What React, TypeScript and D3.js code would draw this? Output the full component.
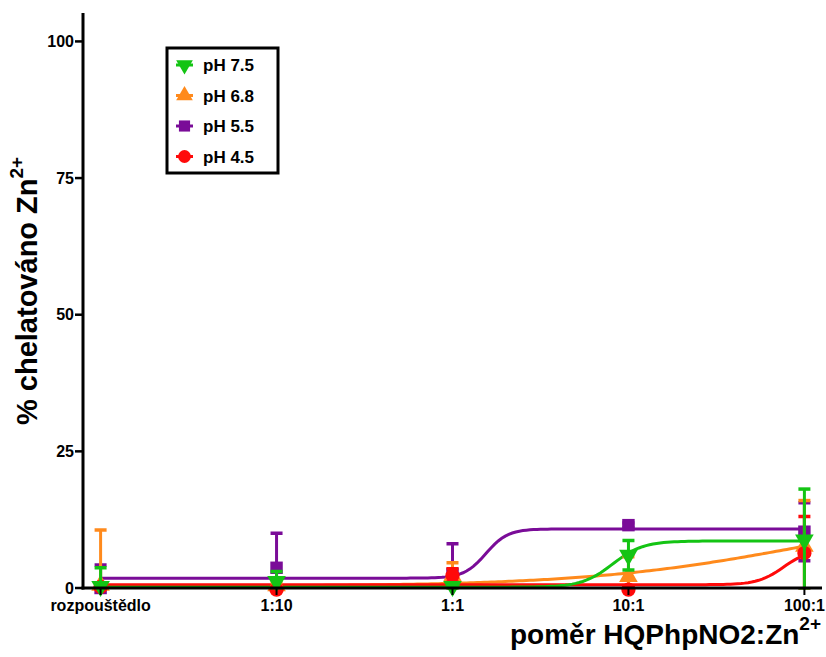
import * as d3 from "d3";

// ---- data ----
const categories = ["rozpouštědlo", "1:10", "1:1", "10:1", "100:1"];
const yTicks = [0, 25, 50, 75, 100];

const seriesNames = ["pH 7.5", "pH 6.8", "pH 5.5", "pH 4.5"];
const seriesColors = ["#14c414", "#ff8a1c", "#7a0c98", "#ff0a0a"];
const seriesShapes = ["triangleDown", "triangleUp", "square", "circle"];

// mean and SD per category (rozpouštědlo, 1:10, 1:1, 10:1, 100:1)
const ph75Mean = [0.3, 1.2, 0.3, 6.0, 8.8];
const ph75Sd = [3.4, 1.8, 0.5, 2.7, 9.3];
const ph68Mean = [0.5, 0.4, 2.2, 2.1, 7.6];
const ph68Sd = [10.1, 0.6, 2.4, 3.6, 8.4];
const ph55Mean = [0.0, 3.7, 2.6, 11.5, 10.3];
const ph55Sd = [4.2, 6.3, 5.5, 0.4, 5.3];
const ph45Mean = [0.2, -0.3, 2.3, -0.3, 6.4];
const ph45Sd = [0.3, 0.3, 1.2, 0.3, 6.7];

// sigmoid fit parameters (bottom, top, midpoint in log-decade index, hill slope)
const fitBottom = [0.15, 0.3, 1.8, 0.6];
const fitTop = [8.6, 15, 10.8, 7.0];
const fitMid = [2.91, 4.0, 2.19, 3.88];
const fitHill = [5, 0.7, 7, 6];

const means = [ph75Mean, ph68Mean, ph55Mean, ph45Mean];
const sds = [ph75Sd, ph68Sd, ph55Sd, ph45Sd];

const FONT = "'Liberation Sans', Arial, sans-serif";

function markerPath(shape: string, size: number) {
  if (shape === "square") return d3.symbol(d3.symbolSquare, size)()!;
  if (shape === "circle") return d3.symbol(d3.symbolCircle, size)()!;
  return d3.symbol(d3.symbolTriangle, size)()!;
}

function Marker({ shape, color, x, y, k = 1 }: { shape: string; color: string; x: number; y: number; k?: number }) {
  const rot = shape === "triangleDown" ? 180 : 0;
  const size = (shape === "square" ? 155 : shape === "circle" ? 160 : 150) * k;
  return (
    <path
      d={markerPath(shape, size)}
      transform={`translate(${x},${y}) rotate(${rot})`}
      fill={color}
    />
  );
}

export default function App() {
  const width = 826;
  const height = 657;

  const x = d3.scaleLinear().domain([-0.1, 4.1]).range([83, 822]);
  const y = d3.scaleLinear().domain([0, 105.2]).range([588, 13]);

  const fitX = d3.range(0, 4.0001, 0.02);
  const line = d3.line<number>().x((d) => x(d));

  // order of drawing: purple, orange, red, green
  const drawOrder = [2, 1, 3, 0];

  return (
    <svg
      width={width}
      height={height}
      style={{ position: "absolute", left: 0, top: 0, background: "#fff" }}
      fontFamily={FONT}
      fontWeight="bold"
    >
      <defs>
        <clipPath id="plot">
          <rect x={83} y={0} width={743} height={589.5} />
        </clipPath>
      </defs>

      {/* fit curves */}
      <g clipPath="url(#plot)" fill="none" strokeWidth={3}>
        {drawOrder.map((s) => {
          const f = (t: number) =>
            fitBottom[s] + (fitTop[s] - fitBottom[s]) / (1 + Math.pow(10, (fitMid[s] - t) * fitHill[s]));
          const gen = line.y((t) => y(f(t)));
          return <path key={s} d={gen(fitX) || ""} stroke={seriesColors[s]} />;
        })}
      </g>

      {/* error bars and markers */}
      {drawOrder.map((s) => (
        <g key={s}>
          <g clipPath="url(#plot)">
            {categories.map((c, i) => {
              const cx = x(i);
              const hi = y(means[s][i] + sds[s][i]);
              const lo = y(means[s][i] - sds[s][i]);
              return (
                <g key={c} stroke={seriesColors[s]} strokeWidth={3}>
                  <line x1={cx} x2={cx} y1={hi} y2={lo} />
                  <line x1={cx - 6} x2={cx + 6} y1={hi} y2={hi} strokeWidth={3.5} />
                  <line x1={cx - 6} x2={cx + 6} y1={lo} y2={lo} strokeWidth={3.5} />
                </g>
              );
            })}
          </g>
          {categories.map((c, i) => (
            <Marker key={c} shape={seriesShapes[s]} color={seriesColors[s]} x={x(i)} y={y(means[s][i])} />
          ))}
        </g>
      ))}

      {/* y axis */}
      <line x1={83} x2={83} y1={y(105.2)} y2={589.5} stroke="#000" strokeWidth={3} />
      {yTicks.map((t) => (
        <g key={t}>
          <line x1={75} x2={83} y1={y(t)} y2={y(t)} stroke="#000" strokeWidth={2.5} />
          <text x={74} y={y(t)} dy="0.36em" textAnchor="end" fontSize={16}>
            {t}
          </text>
        </g>
      ))}

      {/* x axis */}
      <line x1={81.5} x2={822} y1={588} y2={588} stroke="#000" strokeWidth={3} />
      {categories.map((c, i) => (
        <g key={c}>
          <line x1={x(i)} x2={x(i)} y1={588} y2={595} stroke="#000" strokeWidth={2} />
          <text x={x(i)} y={611} textAnchor="middle" fontSize={16}>
            {c}
          </text>
        </g>
      ))}

      {/* axis titles */}
      <text x={510} y={644} fontSize={28}>
        poměr HQPhpNO2:Zn
        <tspan fontSize={19} dy={-14}>2+</tspan>
      </text>
      <text transform="translate(37,425) rotate(-90)" fontSize={29}>
        % chelatováno Zn
        <tspan fontSize={19} dy={-14}>2+</tspan>
      </text>

      {/* legend */}
      <rect x={167} y={48} width={111} height={125} fill="#fff" stroke="#000" strokeWidth={3} />
      {seriesNames.map((n, i) => {
        const ly = 65 + i * 30.5;
        return (
          <g key={n}>
            <line x1={176} x2={193} y1={ly} y2={ly} stroke={seriesColors[i]} strokeWidth={3} />
            <Marker shape={seriesShapes[i]} color={seriesColors[i]} x={184.5} y={ly} k={0.8} />
            <text x={203} y={ly} dy="0.36em" fontSize={17}>
              {n}
            </text>
          </g>
        );
      })}
    </svg>
  );
}
